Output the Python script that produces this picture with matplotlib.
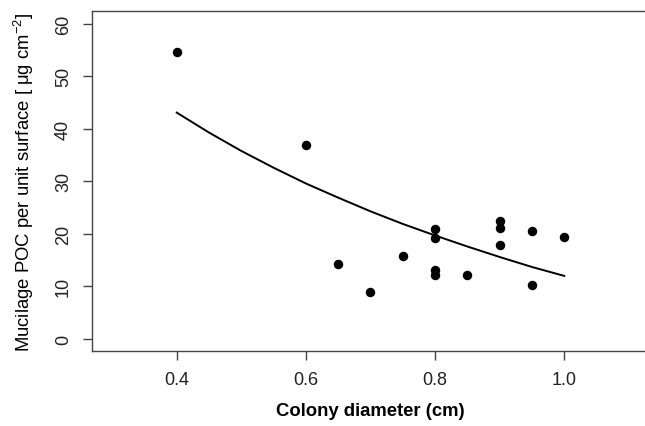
import matplotlib
matplotlib.use("Agg")
import matplotlib.pyplot as plt

# observed colonies
diameter = [0.40, 0.60, 0.65, 0.70, 0.75, 0.80, 0.80, 0.80, 0.80, 0.85,
            0.90, 0.90, 0.90, 0.95, 0.95, 1.00]
poc = [54.6, 37.0, 14.2, 8.9, 15.85, 21.0, 19.2, 13.2, 12.1, 12.2,
       22.5, 21.2, 17.8, 20.55, 10.3, 19.4]

# fitted curve
fit_x = [0.40, 0.45, 0.50, 0.55, 0.60, 0.65, 0.70, 0.75, 0.80, 0.85, 0.90, 0.95, 1.00]
fit_y = [43.1, 39.3, 35.8, 32.6, 29.6, 26.9, 24.3, 21.9, 19.7, 17.6, 15.6, 13.7, 12.0]

x_ticks = [0.4, 0.6, 0.8, 1.0]
y_ticks = [0, 10, 20, 30, 40, 50, 60]

plt.rcParams["font.family"] = ["Liberation Sans", "DejaVu Sans"]

fig = plt.figure(figsize=(6.45, 4.27), dpi=100)
ax = fig.add_axes([0.1419, 0.1745, 0.865, 0.7967])

ax.plot(fit_x, fit_y, color="black", lw=1.4, solid_joinstyle="round")
ax.plot(diameter, poc, "o", color="black", markersize=5.8)

ax.set_xlim(0.268, 1.132)
ax.set_ylim(-2.4, 62.4)
ax.set_xticks(x_ticks)
ax.set_xticklabels([f"{t:.1f}" for t in x_ticks])
ax.set_yticks(y_ticks)
ax.set_yticklabels([str(t) for t in y_ticks], rotation=90, va="center")

for s in ax.spines.values():
    s.set_color("#444444")
    s.set_linewidth(1.0)
ax.tick_params(axis="both", direction="out", length=6.5, width=1.0,
               color="#444444", labelsize=13, labelcolor="#222222")
ax.tick_params(axis="x", pad=7.5)
ax.tick_params(axis="y", pad=7.5)

ax.set_xlabel("Colony diameter (cm)", fontsize=13.3, fontweight="bold", labelpad=10)
ax.set_ylabel(r"Mucilage POC per unit surface [ $\mathregular{\mu}$g cm$^{\mathregular{-2}}$]",
              fontsize=13.3, labelpad=14)

fig.savefig("out.png", dpi=100)
